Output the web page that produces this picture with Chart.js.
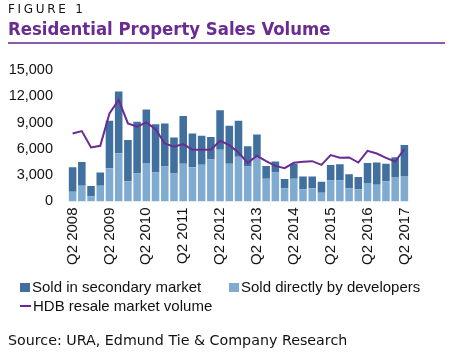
<!DOCTYPE html>
<html>
<head>
<meta charset="utf-8">
<script src="https://cdn.jsdelivr.net/npm/chart.js@4"></script>
<style>
  html, body { margin: 0; padding: 0; background: #fff; }
  body { width: 452px; height: 356px; position: relative; overflow: hidden; font-family: "Liberation Sans", Arial, sans-serif; }
  #fig { position: absolute; left: 8px; top: 2px; font-family: "DejaVu Sans", sans-serif; font-size: 12px; letter-spacing: 2.7px; color: #111; }
  #title { position: absolute; left: 8px; top: 18px; font-family: "DejaVu Sans Condensed", "DejaVu Sans", sans-serif; font-weight: bold; font-size: 18.4px; color: #6a2c91; white-space: nowrap; }
  #rule { position: absolute; left: 8px; top: 42px; width: 437px; height: 2px; background: #8a5aab; }
  #wrap { position: absolute; left: 0; top: 0; width: 452px; height: 356px; }
  .leg { position: absolute; font-size: 15px; color: #111; white-space: nowrap; }
  .box { display: inline-block; width: 10px; height: 9px; margin-right: 2px; vertical-align: 0px; }
  .ln { display: inline-block; width: 11px; height: 2px; margin-right: 2px; vertical-align: 4px; }
  #src { position: absolute; left: 8px; top: 332px; font-family: "DejaVu Sans", sans-serif; font-size: 14.25px; color: #111; white-space: nowrap; }
</style>
</head>
<body>
<div id="wrap"><canvas id="c" width="452" height="356"></canvas></div>
<div id="fig">FIGURE 1</div>
<div id="title">Residential Property Sales Volume</div>
<div id="rule"></div>
<div id="leg1" class="leg" style="left:20px; top:278px;"></div>
<div id="leg2" class="leg" style="left:229px; top:278px;"></div>
<div id="leg3" class="leg" style="left:20px; top:297px;"></div>
<div id="src">Source: URA, Edmund Tie &amp; Company Research</div>
<script>
const quarters = [
  "Q2 2008","Q3 2008","Q4 2008","Q1 2009","Q2 2009","Q3 2009","Q4 2009","Q1 2010",
  "Q2 2010","Q3 2010","Q4 2010","Q1 2011","Q2 2011","Q3 2011","Q4 2011","Q1 2012",
  "Q2 2012","Q3 2012","Q4 2012","Q1 2013","Q2 2013","Q3 2013","Q4 2013","Q1 2014",
  "Q2 2014","Q3 2014","Q4 2014","Q1 2015","Q2 2015","Q3 2015","Q4 2015","Q1 2016",
  "Q2 2016","Q3 2016","Q4 2016","Q1 2017","Q2 2017"
];
const soldByDevelopers = [
  1100,1800,600,1800,3800,5500,2300,3200,4400,3300,4000,3200,4300,3900,4200,4800,
  5900,4300,5100,4000,5100,2600,3300,1500,2600,1400,1500,1000,2400,2400,1500,1400,
  2100,1900,2300,2800,2900
];
const soldSecondary = [
  2800,2700,1150,1500,5400,7050,4700,5900,6100,5500,4900,4100,5450,3850,3300,2550,
  4500,4350,4100,2300,2550,1450,1250,1050,1700,1450,1350,1250,1750,1850,1600,1400,
  2300,2550,2000,2250,3550
];
const hdbResale = [
  7760,8030,6160,6350,10050,11590,8910,8530,9020,8250,6620,6240,6550,5900,5900,5900,
  6930,6430,5590,4400,5210,4600,4060,3800,4410,4520,4600,4180,5290,4980,5020,4440,
  5780,5470,4980,4560,5980
];
const yTicks = [0, 3000, 6000, 9000, 12000, 15000];

const colSecondary = "#41709e";
const colDevelopers = "#80abd1";
const colHdb = "#6a2c91";

const datasets = [
  { type: "bar", label: "Sold directly by developers", data: soldByDevelopers, backgroundColor: colDevelopers, stack: "s", order: 2, barPercentage: 0.82, categoryPercentage: 1 },
  { type: "bar", label: "Sold in secondary market", data: soldSecondary, backgroundColor: colSecondary, stack: "s", order: 2, barPercentage: 0.82, categoryPercentage: 1 },
  { type: "line", label: "HDB resale market volume", data: hdbResale, borderColor: colHdb, borderWidth: 2, pointRadius: 0, tension: 0, fill: false, stack: "h", order: 0 }
];

new Chart(document.getElementById("c"), {
  data: { labels: quarters, datasets: datasets },
  options: {
    responsive: false,
    animation: false,
    layout: { padding: { left: 0, right: 43, top: 70, bottom: 85 } },
    plugins: { legend: { display: false }, tooltip: { enabled: false } },
    scales: {
      x: {
        stacked: true,
        grid: { display: false, drawTicks: false },
        border: { display: false },
        ticks: {
          autoSkip: false, maxRotation: 90, minRotation: 90, padding: 6,
          color: "#111", font: { family: "Liberation Sans", size: 15 },
          callback: function (v, i) { return i % 4 === 0 ? quarters[i] : ""; }
        }
      },
      y: {
        stacked: true,
        min: 0, max: 15000,
        afterBuildTicks: function (s) { s.ticks = yTicks.map(v => ({ value: v })); },
        afterFit: function (s) { s.width = 68; },
        grid: { display: false, drawTicks: false },
        border: { display: false },
        ticks: {
          padding: 15, color: "#111", font: { family: "Liberation Sans", size: 14.5 },
          callback: function (v) { return v.toLocaleString("en-US"); }
        }
      }
    }
  }
});

function legendItem(el, ds) {
  const mark = ds.type === "line"
    ? '<span class="ln" style="background:' + ds.borderColor + '"></span>'
    : '<span class="box" style="background:' + ds.backgroundColor + '"></span>';
  document.getElementById(el).innerHTML = mark + ds.label;
}
legendItem("leg1", datasets[1]);
legendItem("leg2", datasets[0]);
legendItem("leg3", datasets[2]);
</script>
</body>
</html>
